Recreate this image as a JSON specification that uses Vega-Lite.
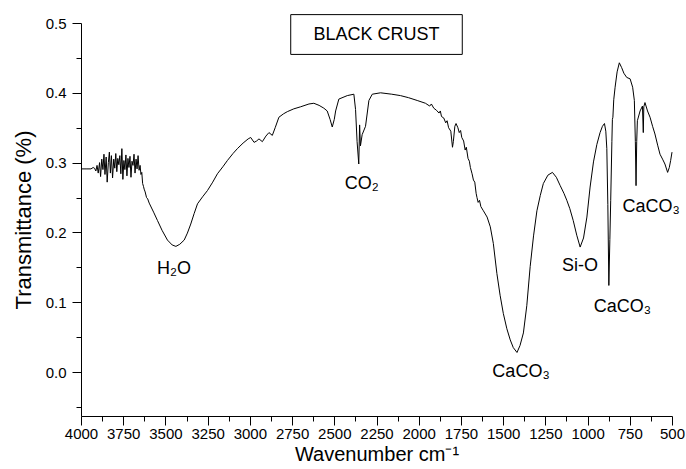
{
  "$schema": "https://vega.github.io/schema/vega-lite/v6.json",
  "width": 591,
  "height": 393,
  "autosize": {"type": "none"},
  "padding": {"left": 81, "top": 23, "right": 14, "bottom": 53},
  "background": "white",
  "config": {
    "view": {"stroke": null},
    "font": "Liberation Sans",
    "axis": {"labelFont": "Liberation Sans", "titleFont": "Liberation Sans", "labelColor": "black", "titleColor": "black", "domainColor": "black", "tickColor": "black", "titleFontWeight": "normal", "grid": false, "domainWidth": 1, "tickWidth": 1}
  },
  "datasets": {
    "spectrum": [
      {"wn": 4000, "t": 0.291}, {"wn": 3970, "t": 0.291}, {"wn": 3941, "t": 0.291}, {"wn": 3928, "t": 0.293},
      {"wn": 3920, "t": 0.292}, {"wn": 3912, "t": 0.288}, {"wn": 3905, "t": 0.296}, {"wn": 3898, "t": 0.285},
      {"wn": 3890, "t": 0.300}, {"wn": 3884, "t": 0.280}, {"wn": 3877, "t": 0.305}, {"wn": 3870, "t": 0.290},
      {"wn": 3864, "t": 0.312}, {"wn": 3858, "t": 0.283}, {"wn": 3851, "t": 0.308}, {"wn": 3845, "t": 0.272},
      {"wn": 3838, "t": 0.300}, {"wn": 3832, "t": 0.315}, {"wn": 3826, "t": 0.285}, {"wn": 3820, "t": 0.310},
      {"wn": 3813, "t": 0.278}, {"wn": 3806, "t": 0.305}, {"wn": 3800, "t": 0.292}, {"wn": 3794, "t": 0.313},
      {"wn": 3788, "t": 0.287}, {"wn": 3782, "t": 0.306}, {"wn": 3776, "t": 0.297}, {"wn": 3770, "t": 0.310},
      {"wn": 3764, "t": 0.284}, {"wn": 3758, "t": 0.320}, {"wn": 3752, "t": 0.276}, {"wn": 3746, "t": 0.303},
      {"wn": 3740, "t": 0.290}, {"wn": 3734, "t": 0.311}, {"wn": 3728, "t": 0.281}, {"wn": 3722, "t": 0.306},
      {"wn": 3716, "t": 0.293}, {"wn": 3710, "t": 0.309}, {"wn": 3704, "t": 0.279}, {"wn": 3698, "t": 0.302},
      {"wn": 3692, "t": 0.296}, {"wn": 3686, "t": 0.312}, {"wn": 3680, "t": 0.285}, {"wn": 3674, "t": 0.305},
      {"wn": 3668, "t": 0.291}, {"wn": 3662, "t": 0.310}, {"wn": 3656, "t": 0.289}, {"wn": 3650, "t": 0.296},
      {"wn": 3645, "t": 0.283}, {"wn": 3640, "t": 0.286}, {"wn": 3635, "t": 0.270}, {"wn": 3630, "t": 0.266},
      {"wn": 3626, "t": 0.262}, {"wn": 3620, "t": 0.258}, {"wn": 3612, "t": 0.250}, {"wn": 3605, "t": 0.248},
      {"wn": 3596, "t": 0.242}, {"wn": 3570, "t": 0.229}, {"wn": 3547, "t": 0.217}, {"wn": 3520, "t": 0.203},
      {"wn": 3488, "t": 0.189}, {"wn": 3460, "t": 0.182}, {"wn": 3438, "t": 0.180}, {"wn": 3415, "t": 0.183},
      {"wn": 3389, "t": 0.189}, {"wn": 3370, "t": 0.199}, {"wn": 3350, "t": 0.212}, {"wn": 3330, "t": 0.227},
      {"wn": 3310, "t": 0.241}, {"wn": 3280, "t": 0.251}, {"wn": 3251, "t": 0.260}, {"wn": 3220, "t": 0.272},
      {"wn": 3192, "t": 0.284}, {"wn": 3160, "t": 0.294}, {"wn": 3133, "t": 0.303}, {"wn": 3100, "t": 0.313},
      {"wn": 3074, "t": 0.320}, {"wn": 3040, "t": 0.328}, {"wn": 3010, "t": 0.334}, {"wn": 2995, "t": 0.336},
      {"wn": 2975, "t": 0.329}, {"wn": 2960, "t": 0.331}, {"wn": 2946, "t": 0.334}, {"wn": 2926, "t": 0.330},
      {"wn": 2905, "t": 0.338}, {"wn": 2887, "t": 0.343}, {"wn": 2867, "t": 0.339}, {"wn": 2850, "t": 0.350},
      {"wn": 2828, "t": 0.365}, {"wn": 2800, "t": 0.370}, {"wn": 2778, "t": 0.373}, {"wn": 2740, "t": 0.377},
      {"wn": 2699, "t": 0.380}, {"wn": 2650, "t": 0.384}, {"wn": 2621, "t": 0.385}, {"wn": 2590, "t": 0.382},
      {"wn": 2562, "t": 0.378}, {"wn": 2542, "t": 0.374}, {"wn": 2525, "t": 0.362}, {"wn": 2512, "t": 0.351},
      {"wn": 2500, "t": 0.362}, {"wn": 2492, "t": 0.374}, {"wn": 2473, "t": 0.391}, {"wn": 2423, "t": 0.396},
      {"wn": 2384, "t": 0.398}, {"wn": 2374, "t": 0.376}, {"wn": 2365, "t": 0.330}, {"wn": 2355, "t": 0.298},
      {"wn": 2350, "t": 0.354}, {"wn": 2345, "t": 0.324}, {"wn": 2335, "t": 0.340}, {"wn": 2315, "t": 0.352},
      {"wn": 2295, "t": 0.389}, {"wn": 2275, "t": 0.398}, {"wn": 2226, "t": 0.400}, {"wn": 2160, "t": 0.398},
      {"wn": 2108, "t": 0.396}, {"wn": 2060, "t": 0.393}, {"wn": 2009, "t": 0.389}, {"wn": 1960, "t": 0.385},
      {"wn": 1935, "t": 0.381}, {"wn": 1925, "t": 0.384}, {"wn": 1911, "t": 0.378}, {"wn": 1895, "t": 0.375},
      {"wn": 1880, "t": 0.371}, {"wn": 1872, "t": 0.374}, {"wn": 1865, "t": 0.366}, {"wn": 1852, "t": 0.364},
      {"wn": 1840, "t": 0.357}, {"wn": 1832, "t": 0.360}, {"wn": 1823, "t": 0.350}, {"wn": 1810, "t": 0.345},
      {"wn": 1800, "t": 0.322}, {"wn": 1795, "t": 0.330}, {"wn": 1786, "t": 0.352}, {"wn": 1779, "t": 0.356},
      {"wn": 1768, "t": 0.350}, {"wn": 1760, "t": 0.343}, {"wn": 1752, "t": 0.346}, {"wn": 1745, "t": 0.336},
      {"wn": 1734, "t": 0.331}, {"wn": 1725, "t": 0.318}, {"wn": 1718, "t": 0.322}, {"wn": 1708, "t": 0.306},
      {"wn": 1700, "t": 0.302}, {"wn": 1694, "t": 0.293}, {"wn": 1684, "t": 0.284}, {"wn": 1676, "t": 0.275},
      {"wn": 1668, "t": 0.272}, {"wn": 1660, "t": 0.256}, {"wn": 1655, "t": 0.250}, {"wn": 1648, "t": 0.243},
      {"wn": 1640, "t": 0.246}, {"wn": 1632, "t": 0.237}, {"wn": 1617, "t": 0.231}, {"wn": 1595, "t": 0.222},
      {"wn": 1576, "t": 0.208}, {"wn": 1558, "t": 0.184}, {"wn": 1537, "t": 0.141}, {"wn": 1518, "t": 0.110},
      {"wn": 1499, "t": 0.084}, {"wn": 1478, "t": 0.062}, {"wn": 1458, "t": 0.046}, {"wn": 1440, "t": 0.035},
      {"wn": 1418, "t": 0.028}, {"wn": 1400, "t": 0.038}, {"wn": 1380, "t": 0.056}, {"wn": 1360, "t": 0.095},
      {"wn": 1340, "t": 0.151}, {"wn": 1320, "t": 0.195}, {"wn": 1300, "t": 0.231}, {"wn": 1280, "t": 0.253},
      {"wn": 1262, "t": 0.270}, {"wn": 1235, "t": 0.282}, {"wn": 1208, "t": 0.286}, {"wn": 1185, "t": 0.279},
      {"wn": 1162, "t": 0.267}, {"wn": 1140, "t": 0.256}, {"wn": 1123, "t": 0.246}, {"wn": 1105, "t": 0.234},
      {"wn": 1085, "t": 0.217}, {"wn": 1064, "t": 0.196}, {"wn": 1044, "t": 0.179}, {"wn": 1024, "t": 0.192},
      {"wn": 1004, "t": 0.222}, {"wn": 985, "t": 0.265}, {"wn": 965, "t": 0.301}, {"wn": 945, "t": 0.326},
      {"wn": 926, "t": 0.343}, {"wn": 912, "t": 0.352}, {"wn": 900, "t": 0.356}, {"wn": 892, "t": 0.345},
      {"wn": 886, "t": 0.320}, {"wn": 880, "t": 0.240}, {"wn": 874, "t": 0.124}, {"wn": 868, "t": 0.190},
      {"wn": 863, "t": 0.246}, {"wn": 856, "t": 0.330}, {"wn": 853, "t": 0.362}, {"wn": 850, "t": 0.365},
      {"wn": 845, "t": 0.390}, {"wn": 837, "t": 0.408}, {"wn": 825, "t": 0.430}, {"wn": 812, "t": 0.443},
      {"wn": 798, "t": 0.436}, {"wn": 785, "t": 0.428}, {"wn": 768, "t": 0.422}, {"wn": 748, "t": 0.420},
      {"wn": 733, "t": 0.408}, {"wn": 723, "t": 0.389}, {"wn": 717, "t": 0.330}, {"wn": 713, "t": 0.267},
      {"wn": 709, "t": 0.330}, {"wn": 705, "t": 0.360}, {"wn": 689, "t": 0.374}, {"wn": 675, "t": 0.381},
      {"wn": 670, "t": 0.343}, {"wn": 667, "t": 0.380}, {"wn": 660, "t": 0.386}, {"wn": 645, "t": 0.374},
      {"wn": 630, "t": 0.365}, {"wn": 615, "t": 0.352}, {"wn": 601, "t": 0.341}, {"wn": 585, "t": 0.325},
      {"wn": 571, "t": 0.312}, {"wn": 556, "t": 0.305}, {"wn": 542, "t": 0.298}, {"wn": 526, "t": 0.286},
      {"wn": 516, "t": 0.293}, {"wn": 508, "t": 0.303}, {"wn": 500, "t": 0.315}
    ],
    "labels": [
      {"wn": 3449, "t": 0.147, "label": "H₂O"},
      {"wn": 2338, "t": 0.270, "label": "CO₂"},
      {"wn": 1394, "t": 0.000, "label": "CaCO₃"},
      {"wn": 1045, "t": 0.152, "label": "Si-O"},
      {"wn": 793, "t": 0.093, "label": "CaCO₃"},
      {"wn": 624, "t": 0.236, "label": "CaCO₃"}
    ],
    "box": [
      {"x1": 2758, "x2": 1742, "y1": 0.512, "y2": 0.455, "label": "BLACK CRUST"}
    ]
  },
  "resolve": {"axis": {"x": "independent", "y": "independent"}},
  "layer": [
    {
      "data": {"name": "spectrum"},
      "mark": {"type": "line", "color": "black", "strokeWidth": 1, "interpolate": "linear"},
      "encoding": {
        "x": {
          "field": "wn", "type": "quantitative", "title": "Wavenumber cm⁻¹",
          "scale": {"domain": [500, 4000], "reverse": true, "nice": false, "zero": false},
          "axis": {
            "orient": "bottom",
            "values": [500, 750, 1000, 1250, 1500, 1750, 2000, 2250, 2500, 2750, 3000, 3250, 3500, 3750, 4000],
            "format": "d", "tickSize": 9,
            "labelFontSize": 15, "titleFontSize": 20, "labelPadding": 1, "titlePadding": 3,
            "labelOverlap": false, "labelFlush": false
          }
        },
        "y": {
          "field": "t", "type": "quantitative", "title": "Transmittance (%)",
          "scale": {"domain": [-0.063, 0.5], "nice": false, "zero": false},
          "axis": {
            "orient": "left",
            "values": [0, 0.1, 0.2, 0.3, 0.4, 0.5],
            "format": ".1f", "tickSize": 9,
            "labelFontSize": 15, "titleFontSize": 22, "labelPadding": 6, "titlePadding": 10,
            "labelOverlap": false, "labelFlush": false
          }
        }
      }
    },
    {
      "data": {"name": "box"},
      "mark": {"type": "rect", "fill": "white", "stroke": "black", "strokeWidth": 1},
      "encoding": {
        "x": {"field": "x1", "type": "quantitative", "axis": null},
        "x2": {"field": "x2"},
        "y": {"field": "y1", "type": "quantitative", "axis": null},
        "y2": {"field": "y2"}
      }
    },
    {
      "data": {"name": "box"},
      "transform": [{"calculate": "(datum.x1 + datum.x2) / 2", "as": "xm"}, {"calculate": "(datum.y1 + datum.y2) / 2", "as": "ym"}],
      "mark": {"type": "text", "fontSize": 18, "font": "Liberation Sans", "color": "black", "align": "center", "baseline": "middle"},
      "encoding": {
        "x": {"field": "xm", "type": "quantitative", "axis": null},
        "y": {"field": "ym", "type": "quantitative", "axis": null},
        "text": {"field": "label"}
      }
    },
    {
      "data": {"name": "labels"},
      "mark": {"type": "text", "fontSize": 18, "font": "Liberation Sans", "color": "black", "align": "center", "baseline": "middle"},
      "encoding": {
        "x": {
          "field": "wn", "type": "quantitative",
          "axis": {
            "orient": "bottom", "title": null, "labels": false, "domain": false, "tickSize": 5,
            "values": [625, 875, 1125, 1375, 1625, 1875, 2125, 2375, 2625, 2875, 3125, 3375, 3625, 3875]
          }
        },
        "y": {
          "field": "t", "type": "quantitative",
          "axis": {
            "orient": "left", "title": null, "labels": false, "domain": false, "tickSize": 5,
            "values": [-0.05, 0.05, 0.15, 0.25, 0.35, 0.45]
          }
        },
        "text": {"field": "label"}
      }
    }
  ]
}
